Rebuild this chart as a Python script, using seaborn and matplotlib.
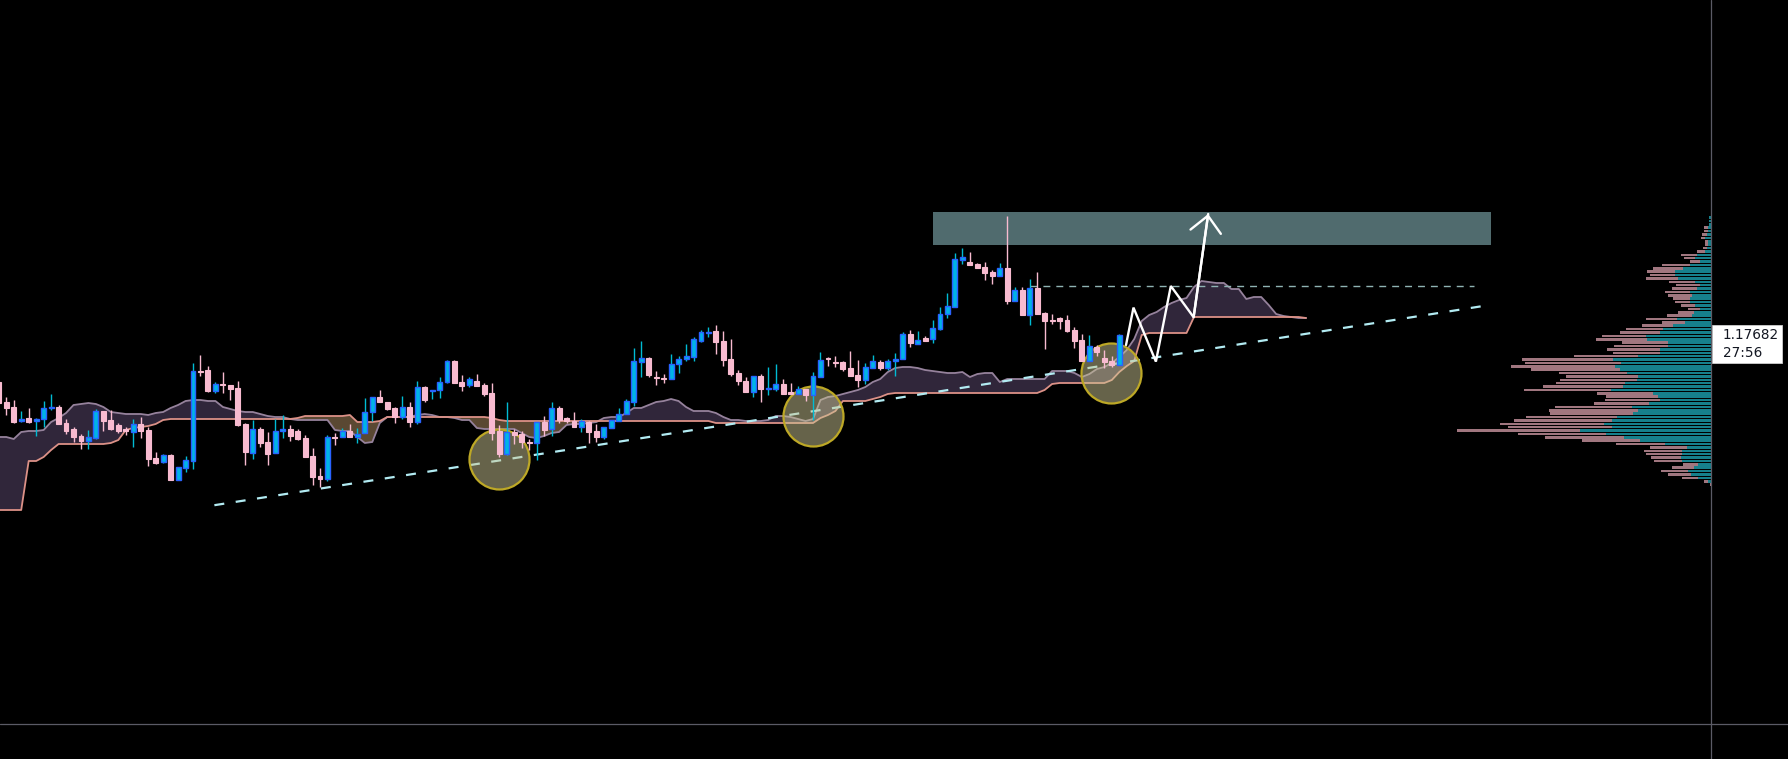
import numpy as np
import matplotlib
matplotlib.use("Agg")
import matplotlib.pyplot as plt
import seaborn as sns
from matplotlib.lines import Line2D
from matplotlib.patches import Rectangle
from matplotlib.transforms import blended_transform_factory, offset_copy

# ---------------- candles (hourly bars) ----------------
opens = [1.17447, 1.17347, 1.17322, 1.17252, 1.17267, 1.17252, 1.17262, 1.17317, 1.17322, 1.17242,
         1.17212, 1.17177, 1.17152, 1.17167, 1.17302, 1.17257, 1.17232, 1.17212, 1.17197, 1.17237,
         1.17207, 1.17067, 1.17047, 1.17082, 1.16957, 1.17017, 1.17052, 1.17502, 1.17507, 1.17402,
         1.17437, 1.17432, 1.17417, 1.17237, 1.17092, 1.17212, 1.17147, 1.17092, 1.17202, 1.17212,
         1.17202, 1.17167, 1.17077, 1.16977, 1.16962, 1.17172, 1.17172, 1.17202, 1.17172, 1.17192,
         1.17297, 1.17372, 1.17347, 1.17317, 1.17272, 1.17322, 1.17247, 1.17422, 1.17402, 1.17407,
         1.17447, 1.17552, 1.17447, 1.17432, 1.17452, 1.17432, 1.17392, 1.17202, 1.17087, 1.17197,
         1.17187, 1.17147, 1.17142, 1.17247, 1.17212, 1.17317, 1.17267, 1.17252, 1.17222, 1.17247,
         1.17202, 1.17172, 1.17217, 1.17252, 1.17287, 1.17347, 1.17547, 1.17567, 1.17472, 1.17467,
         1.17462, 1.17537, 1.17562, 1.17572, 1.17652, 1.17692, 1.17702, 1.17652, 1.17562, 1.17492,
         1.17452, 1.17397, 1.17477, 1.17412, 1.17412, 1.17437, 1.17397, 1.17387, 1.17412, 1.17382,
         1.17472, 1.17567, 1.17547, 1.17547, 1.17517, 1.17482, 1.17457, 1.17517, 1.17547, 1.17517,
         1.17552, 1.17562, 1.17687, 1.17637, 1.17667, 1.17662, 1.17712, 1.17787, 1.17822, 1.18057,
         1.18047, 1.18037, 1.18022, 1.17997, 1.17977, 1.18017, 1.17852, 1.17907, 1.17782, 1.17917,
         1.17792, 1.17757, 1.17767, 1.17757, 1.17707, 1.17657, 1.17552, 1.17622, 1.17567, 1.17552,
         1.17532]
highs = [1.17447, 1.17372, 1.17357, 1.17302, 1.17317, 1.17267, 1.17352, 1.17387, 1.17332, 1.17262,
         1.17222, 1.17187, 1.17207, 1.17312, 1.17302, 1.17307, 1.17242, 1.17222, 1.17262, 1.17272,
         1.17222, 1.17097, 1.17087, 1.17087, 1.17022, 1.17077, 1.17542, 1.17582, 1.17527, 1.17447,
         1.17497, 1.17432, 1.17452, 1.17242, 1.17257, 1.17222, 1.17197, 1.17262, 1.17282, 1.17232,
         1.17212, 1.17182, 1.17117, 1.17017, 1.17182, 1.17192, 1.17217, 1.17237, 1.17217, 1.17367,
         1.17372, 1.17407, 1.17347, 1.17322, 1.17377, 1.17347, 1.17452, 1.17427, 1.17407, 1.17472,
         1.17557, 1.17557, 1.17482, 1.17472, 1.17487, 1.17442, 1.17442, 1.17232, 1.17347, 1.17212,
         1.17202, 1.17162, 1.17247, 1.17277, 1.17347, 1.17327, 1.17272, 1.17297, 1.17262, 1.17252,
         1.17237, 1.17222, 1.17257, 1.17317, 1.17362, 1.17617, 1.17652, 1.17572, 1.17502, 1.17487,
         1.17587, 1.17577, 1.17637, 1.17672, 1.17707, 1.17722, 1.17732, 1.17702, 1.17662, 1.17507,
         1.17472, 1.17477, 1.17487, 1.17522, 1.17537, 1.17462, 1.17442, 1.17427, 1.17412, 1.17497,
         1.17597, 1.17572, 1.17577, 1.17552, 1.17602, 1.17557, 1.17542, 1.17582, 1.17557, 1.17562,
         1.17592, 1.17697, 1.17707, 1.17702, 1.17677, 1.17757, 1.17822, 1.17892, 1.18092, 1.18117,
         1.18097, 1.18042, 1.18047, 1.18007, 1.18042, 1.18277, 1.17922, 1.17922, 1.17962, 1.17997,
         1.17797, 1.17787, 1.17772, 1.17782, 1.17722, 1.17687, 1.17682, 1.17632, 1.17607, 1.17577,
         1.17687]
lows = [1.17342, 1.17282, 1.17242, 1.17247, 1.17242, 1.17177, 1.17222, 1.17307, 1.17237, 1.17187,
        1.17147, 1.17112, 1.17112, 1.17162, 1.17202, 1.17207, 1.17192, 1.17182, 1.17122, 1.17167,
        1.17027, 1.17037, 1.17042, 1.16957, 1.16957, 1.16997, 1.17012, 1.17477, 1.17397, 1.17392,
        1.17392, 1.17357, 1.17227, 1.17032, 1.17062, 1.17122, 1.17032, 1.17092, 1.17167, 1.17152,
        1.17157, 1.17072, 1.16932, 1.16922, 1.16952, 1.17132, 1.17172, 1.17172, 1.17142, 1.17192,
        1.17252, 1.17347, 1.17307, 1.17242, 1.17262, 1.17222, 1.17237, 1.17347, 1.17362, 1.17367,
        1.17442, 1.17442, 1.17402, 1.17422, 1.17427, 1.17377, 1.17157, 1.17072, 1.17082, 1.17137,
        1.17117, 1.17107, 1.17057, 1.17177, 1.17177, 1.17242, 1.17242, 1.17222, 1.17197, 1.17142,
        1.17147, 1.17162, 1.17217, 1.17252, 1.17287, 1.17327, 1.17472, 1.17472, 1.17432, 1.17442,
        1.17462, 1.17492, 1.17552, 1.17552, 1.17647, 1.17672, 1.17587, 1.17527, 1.17477, 1.17432,
        1.17397, 1.17372, 1.17347, 1.17382, 1.17402, 1.17387, 1.17387, 1.17387, 1.17352, 1.17257,
        1.17472, 1.17527, 1.17522, 1.17502, 1.17477, 1.17422, 1.17437, 1.17517, 1.17507, 1.17507,
        1.17477, 1.17562, 1.17622, 1.17637, 1.17652, 1.17642, 1.17707, 1.17767, 1.17822, 1.18037,
        1.18032, 1.18017, 1.17957, 1.17937, 1.17977, 1.17837, 1.17852, 1.17782, 1.17732, 1.17787,
        1.17612, 1.17737, 1.17712, 1.17697, 1.17617, 1.17552, 1.17552, 1.17577, 1.17517, 1.17522,
        1.17532]
closes = [1.17342, 1.17317, 1.17247, 1.17262, 1.17247, 1.17262, 1.17317, 1.17322, 1.17237, 1.17202,
          1.17172, 1.17152, 1.17172, 1.17302, 1.17252, 1.17212, 1.17202, 1.17202, 1.17237, 1.17202,
          1.17062, 1.17042, 1.17082, 1.16957, 1.17022, 1.17057, 1.17502, 1.17497, 1.17402, 1.17437,
          1.17432, 1.17412, 1.17232, 1.17097, 1.17212, 1.17142, 1.17087, 1.17202, 1.17212, 1.17177,
          1.17162, 1.17072, 1.16972, 1.16962, 1.17172, 1.17167, 1.17202, 1.17172, 1.17187, 1.17297,
          1.17372, 1.17347, 1.17312, 1.17272, 1.17322, 1.17247, 1.17422, 1.17357, 1.17407, 1.17447,
          1.17552, 1.17442, 1.17427, 1.17462, 1.17427, 1.17387, 1.17192, 1.17087, 1.17197, 1.17182,
          1.17147, 1.17142, 1.17247, 1.17207, 1.17317, 1.17257, 1.17252, 1.17222, 1.17252, 1.17197,
          1.17172, 1.17222, 1.17257, 1.17287, 1.17352, 1.17552, 1.17567, 1.17482, 1.17467, 1.17462,
          1.17537, 1.17562, 1.17577, 1.17662, 1.17697, 1.17697, 1.17647, 1.17557, 1.17487, 1.17452,
          1.17397, 1.17477, 1.17412, 1.17417, 1.17437, 1.17387, 1.17387, 1.17412, 1.17382, 1.17477,
          1.17557, 1.17562, 1.17542, 1.17512, 1.17477, 1.17457, 1.17522, 1.17552, 1.17517, 1.17552,
          1.17562, 1.17687, 1.17642, 1.17657, 1.17652, 1.17717, 1.17787, 1.17827, 1.18062, 1.18072,
          1.18032, 1.18017, 1.17992, 1.17977, 1.18017, 1.17852, 1.17907, 1.17782, 1.17917, 1.17787,
          1.17752, 1.17752, 1.17752, 1.17702, 1.17652, 1.17552, 1.17627, 1.17597, 1.17547, 1.17532,
          1.17682]

# ---------------- Ichimoku cloud (leading spans, shifted ahead) ----------------
span_a = [1.17172, 1.17172, 1.17162, 1.17197, 1.17202, 1.17202, 1.17207, 1.17247, 1.17267, 1.17292,
          1.17332, 1.17337, 1.17342, 1.17337, 1.17322, 1.17297, 1.17292, 1.17287, 1.17287, 1.17287,
          1.17282, 1.17292, 1.17297, 1.17317, 1.17332, 1.17352, 1.17357, 1.17357, 1.17352, 1.17352,
          1.17322, 1.17312, 1.17302, 1.17297, 1.17297, 1.17287, 1.17277, 1.17272, 1.17272, 1.17262,
          1.17257, 1.17257, 1.17257, 1.17257, 1.17257, 1.17207, 1.17202, 1.17202, 1.17172, 1.17142,
          1.17147, 1.17242, 1.17272, 1.17272, 1.17272, 1.17272, 1.17282, 1.17287, 1.17282, 1.17272,
          1.17272, 1.17267, 1.17257, 1.17257, 1.17217, 1.17212, 1.17212, 1.17212, 1.17212, 1.17212,
          1.17192, 1.17172, 1.17167, 1.17177, 1.17192, 1.17197, 1.17232, 1.17237, 1.17237, 1.17242,
          1.17247, 1.17267, 1.17272, 1.17272, 1.17292, 1.17317, 1.17317, 1.17332, 1.17347, 1.17352,
          1.17362, 1.17352, 1.17322, 1.17302, 1.17302, 1.17302, 1.17292, 1.17272, 1.17257, 1.17257,
          1.17252, 1.17252, 1.17252, 1.17257, 1.17277, 1.17277, 1.17272, 1.17262, 1.17252, 1.17262,
          1.17357, 1.17372, 1.17377, 1.17387, 1.17397, 1.17407, 1.17422, 1.17447, 1.17462, 1.17497,
          1.17517, 1.17522, 1.17522, 1.17517, 1.17507, 1.17502, 1.17497, 1.17492, 1.17492, 1.17497,
          1.17472, 1.17487, 1.17492, 1.17492, 1.17447, 1.17462, 1.17462, 1.17462, 1.17462, 1.17462,
          1.17462, 1.17502, 1.17502, 1.17502, 1.17492, 1.17472, 1.17487, 1.17512, 1.17522, 1.17542,
          1.17572, 1.17607, 1.17662, 1.17752, 1.17782, 1.17797, 1.17822, 1.17842, 1.17857, 1.17867,
          1.17922, 1.17952, 1.17947, 1.17942, 1.17942, 1.17912, 1.17912, 1.17862, 1.17872, 1.17872,
          1.17832, 1.17787, 1.17777, 1.17772, 1.17767, 1.17767]
span_b = [1.16807, 1.16807, 1.16807, 1.16807, 1.17052, 1.17052, 1.17072, 1.17107, 1.17137, 1.17137,
          1.17137, 1.17137, 1.17137, 1.17137, 1.17137, 1.17142, 1.17157, 1.17207, 1.17217, 1.17222,
          1.17227, 1.17237, 1.17257, 1.17262, 1.17262, 1.17262, 1.17262, 1.17262, 1.17262, 1.17262,
          1.17262, 1.17262, 1.17262, 1.17262, 1.17262, 1.17262, 1.17262, 1.17262, 1.17262, 1.17262,
          1.17267, 1.17277, 1.17277, 1.17277, 1.17277, 1.17277, 1.17277, 1.17282, 1.17247, 1.17247,
          1.17247, 1.17252, 1.17272, 1.17272, 1.17272, 1.17272, 1.17272, 1.17272, 1.17272, 1.17272,
          1.17272, 1.17272, 1.17272, 1.17272, 1.17272, 1.17272, 1.17267, 1.17257, 1.17252, 1.17252,
          1.17252, 1.17252, 1.17252, 1.17252, 1.17252, 1.17252, 1.17252, 1.17252, 1.17252, 1.17252,
          1.17252, 1.17252, 1.17252, 1.17252, 1.17252, 1.17252, 1.17252, 1.17252, 1.17252, 1.17252,
          1.17252, 1.17252, 1.17252, 1.17252, 1.17252, 1.17252, 1.17242, 1.17242, 1.17242, 1.17242,
          1.17242, 1.17242, 1.17242, 1.17242, 1.17242, 1.17242, 1.17242, 1.17242, 1.17242, 1.17242,
          1.17267, 1.17282, 1.17302, 1.17352, 1.17352, 1.17352, 1.17352, 1.17362, 1.17372, 1.17387,
          1.17392, 1.17392, 1.17392, 1.17392, 1.17392, 1.17392, 1.17392, 1.17392, 1.17392, 1.17392,
          1.17392, 1.17392, 1.17392, 1.17392, 1.17392, 1.17392, 1.17392, 1.17392, 1.17392, 1.17392,
          1.17407, 1.17437, 1.17442, 1.17442, 1.17442, 1.17442, 1.17442, 1.17442, 1.17442, 1.17457,
          1.17497, 1.17527, 1.17552, 1.17682, 1.17692, 1.17692, 1.17692, 1.17692, 1.17692, 1.17692,
          1.17772, 1.17772, 1.17772, 1.17772, 1.17772, 1.17772, 1.17772, 1.17772, 1.17772, 1.17772,
          1.17772, 1.17772, 1.17772, 1.17772, 1.17772, 1.17767]

# ---------------- volume profile ----------------
profile_top_price = 1.18269
profile_row_step = 0.000169
profile_total = [6, 6, 6, 22, 22, 27, 31, 20, 19, 24, 42, 91, 82, 64, 147, 174, 192, 184, 196, 126,
                 106, 119, 139, 129, 116, 109, 91, 69, 99, 132, 196, 149, 208, 256, 274, 327, 346, 269, 292, 314,
                 294, 412, 568, 559, 601, 541, 456, 436, 454, 466, 504, 562, 344, 316, 320, 352, 469, 487, 484, 556,
                 592, 634, 611, 762, 580, 499, 389, 286, 184, 202, 196, 182, 172, 86, 119, 151, 130, 89, 22, 5]
profile_buy = [6, 6, 6, 9, 9, 14, 19, 9, 9, 12, 19, 44, 49, 34, 64, 84, 109, 109, 99, 49,
               34, 44, 64, 59, 64, 64, 49, 34, 52, 59, 104, 79, 114, 144, 154, 197, 194, 129, 131, 154,
               154, 221, 294, 271, 289, 274, 254, 219, 224, 259, 264, 301, 174, 159, 154, 186, 239, 219, 234, 284,
               299, 322, 298, 394, 316, 262, 214, 139, 74, 89, 89, 91, 89, 39, 52, 69, 62, 39, 9, 2]

# ---------------- drawings ----------------
zone_bars = [125.05, 199.7]
zone_prices = [1.18134, 1.18297]
level_bars = [138.0, 197.5]
level_price = 1.17929
trend_bars = [28.86, 199.06]
trend_prices = [1.16831, 1.17829]
circle_bars = [67.0, 109.0, 148.9]
circle_prices = [1.17061, 1.17277, 1.17491]
zigzag_bars = [150.9, 151.9, 154.9, 156.9, 159.95, 161.9]
zigzag_prices = [1.17632, 1.17819, 1.17549, 1.17927, 1.17771, 1.18287]
countdown = "27:56"

# ---------------- figure ----------------
sns.set_theme(style="dark", rc={"axes.facecolor": "#000000", "figure.facecolor": "#000000"})
plt.rcParams["font.family"] = ["DejaVu Sans"]

W, H = 1788, 759
fig = plt.figure(figsize=(W / 100, H / 100), dpi=100)
ax = fig.add_axes([0, 0, 1, 1])
Y_LIM = (1.15562, 1.19357)
X_LIM = (0.16, 239.52)

# supply zone
ax.fill_between(zone_bars, zone_prices[0], zone_prices[1], color="#506b6e", lw=0, zorder=0.5)

# cloud
cx = np.arange(len(span_a))
a = np.array(span_a)
b = np.array(span_b)
ax.fill_between(cx, a, b, where=a >= b, interpolate=True, color="#30263a", lw=0, zorder=1)
ax.fill_between(cx, a, b, where=a < b, interpolate=True, color="#5a4832", lw=0, zorder=1)
sns.lineplot(x=cx, y=a, ax=ax, color="#96829c", linewidth=1.3, zorder=2)
sns.lineplot(x=cx, y=b, ax=ax, color="#dc9187", linewidth=1.3, zorder=2)

# trend line & level
ax.plot(trend_bars, trend_prices, color="#b2ebf2", lw=1.6, dashes=(4.5, 5.2),
        dash_capstyle="butt", zorder=3)
ax.plot(level_bars, [level_price, level_price], color="#8fb3b3", lw=1.0, dashes=(5, 4.3),
        dash_capstyle="butt", zorder=3)

# circles
ax.scatter(circle_bars, circle_prices, s=1866, facecolors=[(0.80, 0.78, 0.58, 0.5)],
           edgecolors=[(0.74, 0.66, 0.15, 1.0)], linewidths=1.6, zorder=3.5)

# candles
x = np.arange(len(opens))
o = np.array(opens); h = np.array(highs); l = np.array(lows); c = np.array(closes)
up = c >= o
dn = ~up
ax.vlines(x[up], l[up], h[up], color="#00bcd4", lw=1.0, zorder=4.5)
ax.vlines(x[dn], l[dn], h[dn], color="#f8bbd0", lw=1.0, zorder=4.5)
ax.bar(x[up], c[up] - o[up], bottom=o[up], width=0.66, color="#00b4e6",
       edgecolor="#2962ff", linewidth=1.0, zorder=5)
ax.bar(x[dn], o[dn] - c[dn], bottom=c[dn], width=0.66, color="#f8bbd0",
       edgecolor="#f8bbd0", linewidth=0.8, zorder=5)

# zigzag projection
ax.plot(zigzag_bars, zigzag_prices, color="white", lw=1.7, solid_joinstyle="miter", zorder=6)
ax.annotate("", xy=(zigzag_bars[-1], zigzag_prices[-1]), xytext=(zigzag_bars[-2], zigzag_prices[-2]),
            arrowprops=dict(arrowstyle="->,head_length=0.97,head_width=0.92", color="white",
                            lw=1.7, shrinkA=0, shrinkB=0), zorder=6)

ax.set_xlim(*X_LIM)
ax.set_ylim(*Y_LIM)
ax.axis("off")

# volume profile
vp_right = 1711.3 / W
vp_left = 1411.3 / W
pax = fig.add_axes([vp_left, 0, vp_right - vp_left, 1])
rows = profile_top_price - profile_row_step * np.arange(len(profile_total))
pax.barh(rows, profile_total, height=profile_row_step * 0.75, color="#a0767f", lw=0)
pax.barh(rows, profile_buy, height=profile_row_step * 0.75, color="#16808c", lw=0)
pax.set_xlim(900, 0)
pax.set_ylim(*Y_LIM)
pax.axis("off")

# separators
fig.add_artist(Line2D([vp_right, vp_right], [0, 1], transform=fig.transFigure, color="#5b5b66", lw=0.9))
fig.add_artist(Line2D([0, 1], [(H - 724) / H] * 2, transform=fig.transFigure, color="#5b5b66", lw=0.9))

# last price label
trans = blended_transform_factory(fig.transFigure, ax.transData)
last = closes[-1]
fig.add_artist(Rectangle((1712.3 / W, last - 0.001415), 70 / W, 0.001915, transform=trans,
                         facecolor="white", edgecolor="#cfcfcf", lw=0.6))
fig.text(1722.5 / W, last, f"{last:.5f}", transform=trans, va="center", ha="left",
         fontsize=9.8, color="#131722")
fig.text(1722.5 / W, last, countdown, transform=offset_copy(trans, fig=fig, y=-13.2, units="points"),
         va="center", ha="left", fontsize=9.8, color="#131722")

fig.savefig("out.png", dpi=100, facecolor="black")
